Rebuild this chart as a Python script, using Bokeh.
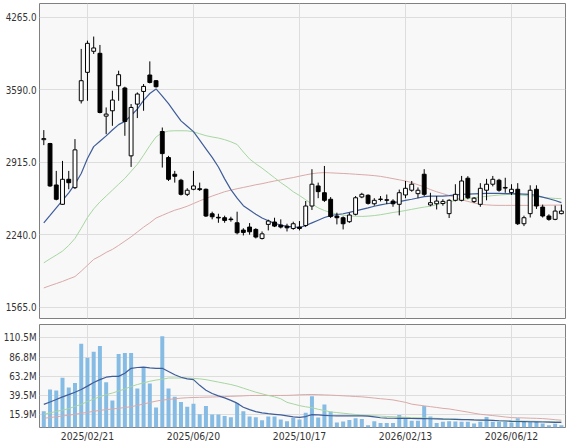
from bokeh.plotting import figure
from bokeh.layouts import column
from bokeh.models import FixedTicker, ColumnDataSource, Range1d
from bokeh.embed import file_html
from bokeh.resources import INLINE
import pandas as pd

# ---------------- data ----------------
start_week = "2025-01-03"
n_weeks = 84

opens = [3125, 3089, 2703, 2523, 2756, 2678, 3487, 3752, 3948, 3929,
         3344, 3394, 3627, 3606, 2974, 3456, 3574, 3727, 3674, 3201,
         2958, 2803, 2747, 2616, 2663, 2668, 2663, 2435, 2402, 2398,
         2386, 2351, 2283, 2311, 2289, 2205, 2336, 2358, 2330, 2320,
         2298, 2311, 2326, 2507, 2694, 2631, 2570, 2414, 2398, 2361,
         2430, 2591, 2607, 2528, 2568, 2565, 2553, 2523, 2610, 2654,
         2622, 2803, 2517, 2528, 2530, 2436, 2560, 2560, 2766, 2548,
         2523, 2654, 2710, 2747, 2674, 2632, 2663, 2342, 2436, 2663,
         2497, 2414, 2383, 2436]
closes = [3135, 2694, 2570, 2756, 2724, 3030, 3674, 4022, 3979, 3378,
          3363, 3494, 3730, 3294, 3425, 3550, 3621, 3658, 3618, 2995,
          2756, 2784, 2616, 2654, 2694, 2660, 2414, 2407, 2396, 2373,
          2380, 2258, 2261, 2267, 2218, 2248, 2367, 2320, 2311, 2304,
          2342, 2298, 2507, 2710, 2641, 2560, 2410, 2398, 2342, 2423,
          2584, 2616, 2532, 2560, 2572, 2561, 2528, 2631, 2672, 2710,
          2654, 2616, 2538, 2553, 2550, 2560, 2616, 2740, 2584, 2580,
          2672, 2710, 2756, 2654, 2680, 2663, 2342, 2398, 2654, 2507,
          2414, 2383, 2460, 2460]
highs = [3214, 3095, 2834, 2927, 2834, 3130, 3970, 4047, 4085, 4007,
         3425, 3581, 3767, 3618, 3457, 3565, 3643, 3854, 3680, 3238,
         2974, 2834, 2760, 2673, 2834, 2725, 2670, 2454, 2435, 2417,
         2407, 2454, 2300, 2348, 2300, 2270, 2380, 2398, 2383, 2342,
         2361, 2367, 2554, 2850, 2725, 2880, 2590, 2445, 2410, 2445,
         2600, 2630, 2616, 2580, 2600, 2614, 2570, 2660, 2740, 2740,
         2680, 2850, 2630, 2600, 2570, 2570, 2710, 2787, 2785, 2590,
         2720, 2760, 2787, 2760, 2770, 2710, 2720, 2417, 2700, 2700,
         2520, 2430, 2510, 2520]
lows = [3074, 2685, 2560, 2518, 2663, 2665, 3462, 3487, 3923, 3370,
        3176, 3254, 3487, 3161, 2871, 3326, 3394, 3649, 3610, 2865,
        2740, 2725, 2605, 2600, 2654, 2647, 2405, 2383, 2351, 2351,
        2361, 2243, 2233, 2240, 2205, 2195, 2280, 2311, 2298, 2270,
        2286, 2280, 2311, 2470, 2580, 2545, 2395, 2336, 2289, 2350,
        2420, 2580, 2520, 2510, 2550, 2525, 2500, 2420, 2580, 2640,
        2580, 2600, 2505, 2475, 2510, 2395, 2550, 2550, 2570, 2535,
        2500, 2560, 2690, 2640, 2630, 2610, 2330, 2320, 2400, 2480,
        2400, 2370, 2375, 2430]

ma_short = [2351, 2420, 2490, 2560, 2630, 2710, 2810, 2950, 3060, 3110,
            3160, 3215, 3265, 3295, 3350, 3410, 3490, 3555, 3597, 3530,
            3460, 3380, 3300, 3250, 3200, 3120, 3040, 2960, 2870, 2760,
            2660, 2580, 2510, 2470, 2430, 2395, 2370, 2345, 2330, 2318,
            2312, 2307, 2325, 2350, 2375, 2400, 2418, 2428, 2435, 2448,
            2462, 2476, 2490, 2505, 2518, 2528, 2536, 2548, 2560, 2570,
            2582, 2595, 2600, 2600, 2600, 2603, 2610, 2615, 2618, 2620,
            2622, 2624, 2625, 2625, 2623, 2622, 2620, 2618, 2616, 2605,
            2590, 2575, 2558, 2538]
ma_mid = [1978, 2015, 2050, 2087, 2140, 2205, 2300, 2400, 2480, 2545,
          2600, 2655, 2710, 2765, 2830, 2895, 2980, 3070, 3150, 3190,
          3205, 3208, 3208, 3207, 3198, 3180, 3162, 3150, 3140, 3125,
          3105, 3080, 3010, 2945, 2900, 2860, 2815, 2770, 2725, 2685,
          2640, 2605, 2565, 2525, 2490, 2465, 2445, 2432, 2422, 2415,
          2412, 2410, 2413, 2418, 2426, 2436, 2447, 2455, 2465, 2476,
          2487, 2497, 2505, 2520, 2535, 2545, 2558, 2568, 2577, 2585,
          2591, 2597, 2604, 2609, 2613, 2616, 2612, 2606, 2600, 2594,
          2587, 2582, 2578, 2575]
ma_long = [1744, 1765, 1785, 1805, 1828, 1850, 1900, 1955, 2010, 2040,
           2075, 2103, 2140, 2180, 2220, 2265, 2310, 2350, 2395, 2420,
           2445, 2468, 2485, 2505, 2530, 2555, 2578, 2600, 2620, 2640,
           2655, 2668, 2680, 2692, 2705, 2715, 2728, 2740, 2750, 2762,
           2772, 2785, 2797, 2808, 2815, 2818, 2816, 2813, 2810, 2807,
           2803, 2799, 2795, 2790, 2783, 2773, 2762, 2751, 2740, 2725,
           2705, 2685, 2660, 2640, 2622, 2605, 2585, 2565, 2550, 2535,
           2523, 2518, 2514, 2513, 2513, 2513, 2513, 2513, 2513, 2514,
           2514, 2515, 2515, 2516]

volume_m = [20.0, 46.8, 45.5, 61.4, 49.2, 54.9, 103.2, 86.1, 93.4, 100.4,
            55.7, 33.4, 90.6, 91.8, 91.8, 48.0, 74.0, 54.1, 24.8, 112.5,
            48.0, 37.8, 31.3, 25.6, 29.3, 16.3, 26.5, 15.9, 15.9, 14.3,
            12.7, 30.1, 20.0, 13.5, 12.7, 9.0, 13.5, 13.5, 9.8, 7.8,
            11.8, 9.8, 18.3, 38.6, 12.2, 28.5, 19.6, 6.2, 7.4, 9.4,
            11.4, 10.6, 2.9, 7.8, 5.4, 5.4, 5.4, 15.5, 11.4, 8.2,
            8.2, 26.5, 13.5, 5.4, 7.0, 7.8, 7.4, 7.0, 7.0, 5.0,
            7.0, 13.1, 7.0, 7.0, 7.0, 6.2, 11.4, 7.0, 7.0, 7.0,
            5.0, 2.9, 4.6, 2.9]
vol_ma_short = [28.5, 31.5, 34.5, 37.8, 40.5, 43.5, 46.8, 51, 55.5, 59,
                62, 63, 63, 67, 73, 74, 74.4, 73.5, 72.8, 73,
                69, 65, 62, 60, 59, 52, 46, 42, 39, 36.5,
                33.5, 30, 25, 22, 19.5, 18, 17, 16.3, 15.5, 14.3,
                13, 12.5, 13.5, 15.9, 15.5, 15, 14.5, 14.3, 14.3, 14.3,
                14.3, 14.3, 14, 13, 12, 11.5, 11.4, 11.3, 11.2, 11.1,
                11, 11, 10.8, 10.6, 10.3, 10.2, 10, 9.8, 9.6, 9.3,
                9.1, 9, 8.7, 8.3, 8, 7.6, 7.4, 7.3, 7.1, 7,
                6.8, 6.6, 6.4, 6.2]
vol_ma_mid = [16.3, 18, 19.8, 21.5, 23.2, 26, 28.5, 32, 35, 38,
              40.5, 42.5, 45, 47.5, 50.5, 53, 55, 57, 58.5, 59.5,
              61, 61, 61, 61, 60.5, 60, 59, 57.5, 56, 54.5,
              53, 51, 48.5, 46, 43.5, 41.5, 39.5, 37.8, 35.4, 31,
              29, 27, 25.5, 24.4, 22.5, 21, 19.2, 18.4, 17.6, 16.8,
              16, 15.1, 14.7, 14.4, 14, 13.6, 13.3, 12.9, 12.6, 12.2,
              12, 11.8, 11.5, 11.3, 11, 10.8, 10.4, 10.1, 9.7, 9.3,
              9, 8.8, 8.7, 8.5, 8.4, 8.2, 8.1, 7.9, 7.8, 7.6,
              7.4, 7.3, 7.1, 7]
vol_ma_long = [11.4, 12.3, 13.2, 14.2, 15.1, 16.3, 17.5, 18.7, 19.9, 21.2,
               22, 22.8, 23.7, 24.6, 25.7, 27.2, 29, 30.8, 32.5, 33.8,
               34.6, 35.4, 36.2, 36.7, 37, 37.2, 37.4, 37.6, 37.8, 38.1,
               38.4, 38.7, 39, 39.4, 39.5, 39.5, 39.5, 39.5, 39.5, 39.6,
               39.9, 40.3, 40.6, 40.7, 40.5, 40.2, 39.9, 39.5, 39.1, 38.7,
               38.2, 37.8, 37.1, 36.3, 35.5, 34.8, 34, 32.5, 31, 28.8,
               27.7, 26.7, 25.7, 24.7, 23.6, 22.9, 21.6, 20.3, 19, 17.6,
               16.3, 15.5, 14.7, 13.9, 13, 12.2, 12, 11.8, 11.5, 11.3,
               11, 10.4, 9.6, 9]

price_ticks = [1565.0, 2240.0, 2915.0, 3590.0, 4265.0]
volume_ticks = [15.9, 39.5, 63.2, 86.8, 110.5]
date_labels = ["2025/02/21", "2025/06/20", "2025/10/17", "2026/02/13", "2026/06/12"]

# ---------------- derived ----------------
dates = pd.date_range(start_week, periods=n_weeks, freq="7D")
date_str = [d.strftime("%Y/%m/%d") for d in dates]
idx = list(range(n_weeks))
tick_pos = [date_str.index(s) for s in date_labels]

up = [c >= o for o, c in zip(opens, closes)]
src = ColumnDataSource(dict(
    x=idx, open=opens, close=closes, high=highs, low=lows,
    top=[max(o, c) for o, c in zip(opens, closes)],
    bottom=[min(o, c) for o, c in zip(opens, closes)],
    fill=["#ffffff" if u else "#000000" for u in up],
    ma1=ma_short, ma2=ma_mid, ma3=ma_long,
    vol=volume_m, v1=vol_ma_short, v2=vol_ma_mid, v3=vol_ma_long,
))

FONT = "DejaVu Sans Condensed"
FS = "9.8px"
FSX = "10.3px"
BG = "#f8f8f8"
GRID = "#dddddd"
OUTLINE = "#808080"

x_range = Range1d(-0.69, 83.66)

p = figure(width=567, height=324, x_range=x_range, y_range=Range1d(1459.5, 4393),
           output_backend="svg", toolbar_location=None,
           min_border_left=37, min_border_right=2, min_border_top=3, min_border_bottom=6)
p.xaxis.visible = False
p.xgrid.ticker = FixedTicker(ticks=tick_pos)
p.yaxis.ticker = FixedTicker(ticks=price_ticks)
p.yaxis.major_label_overrides = {t: f"{t:.1f}" for t in price_ticks}

p.line("x", "ma3", source=src, line_color="#d9a9a9", line_width=1)
p.line("x", "ma2", source=src, line_color="#a6d6a0", line_width=1)
p.line("x", "ma1", source=src, line_color="#3f5d99", line_width=1.2)
p.segment("x", "high", "x", "low", source=src, line_color="#000000", line_width=1)
p.vbar(x="x", width=0.62, top="top", bottom="bottom", source=src,
       fill_color="fill", line_color="#000000", line_width=1)

v = figure(width=567, height=120, x_range=x_range, y_range=Range1d(0, 127),
           output_backend="svg", toolbar_location=None,
           min_border_left=37, min_border_right=2, min_border_top=0, min_border_bottom=15)
v.xaxis.ticker = FixedTicker(ticks=tick_pos)
v.xaxis.major_label_overrides = {t: s for t, s in zip(tick_pos, date_labels)}
v.yaxis.ticker = FixedTicker(ticks=volume_ticks)
v.yaxis.major_label_overrides = {t: f"{t:.1f}M" for t in volume_ticks}

v.vbar(x="x", width=0.64, top="vol", bottom=0, source=src,
       fill_color="#86bce4", line_color=None)
v.line("x", "v3", source=src, line_color="#d9a9a9", line_width=1)
v.line("x", "v2", source=src, line_color="#a6d6a0", line_width=1)
v.line("x", "v1", source=src, line_color="#3f5d99", line_width=1.2)

for f in (p, v):
    f.background_fill_color = BG
    f.border_fill_color = "#ffffff"
    f.outline_line_color = OUTLINE
    f.outline_line_width = 1
    f.grid.grid_line_color = GRID
    f.grid.grid_line_width = 1
    for ax in f.axis:
        ax.axis_line_color = None
        ax.major_tick_line_color = None
        ax.minor_tick_line_color = None
        ax.major_tick_out = 0
        ax.major_tick_in = 0
        ax.minor_tick_out = 0
        ax.minor_tick_in = 0
        ax.major_label_text_font = FONT
        ax.major_label_text_font_size = FS
        ax.major_label_text_color = "#333333"
    f.yaxis.major_label_standoff = 3
v.xaxis.major_label_text_font_size = FSX
v.xaxis.major_label_standoff = 2

layout = column(p, v, spacing=0)
open("out.html", "w").write(file_html(layout, INLINE))
